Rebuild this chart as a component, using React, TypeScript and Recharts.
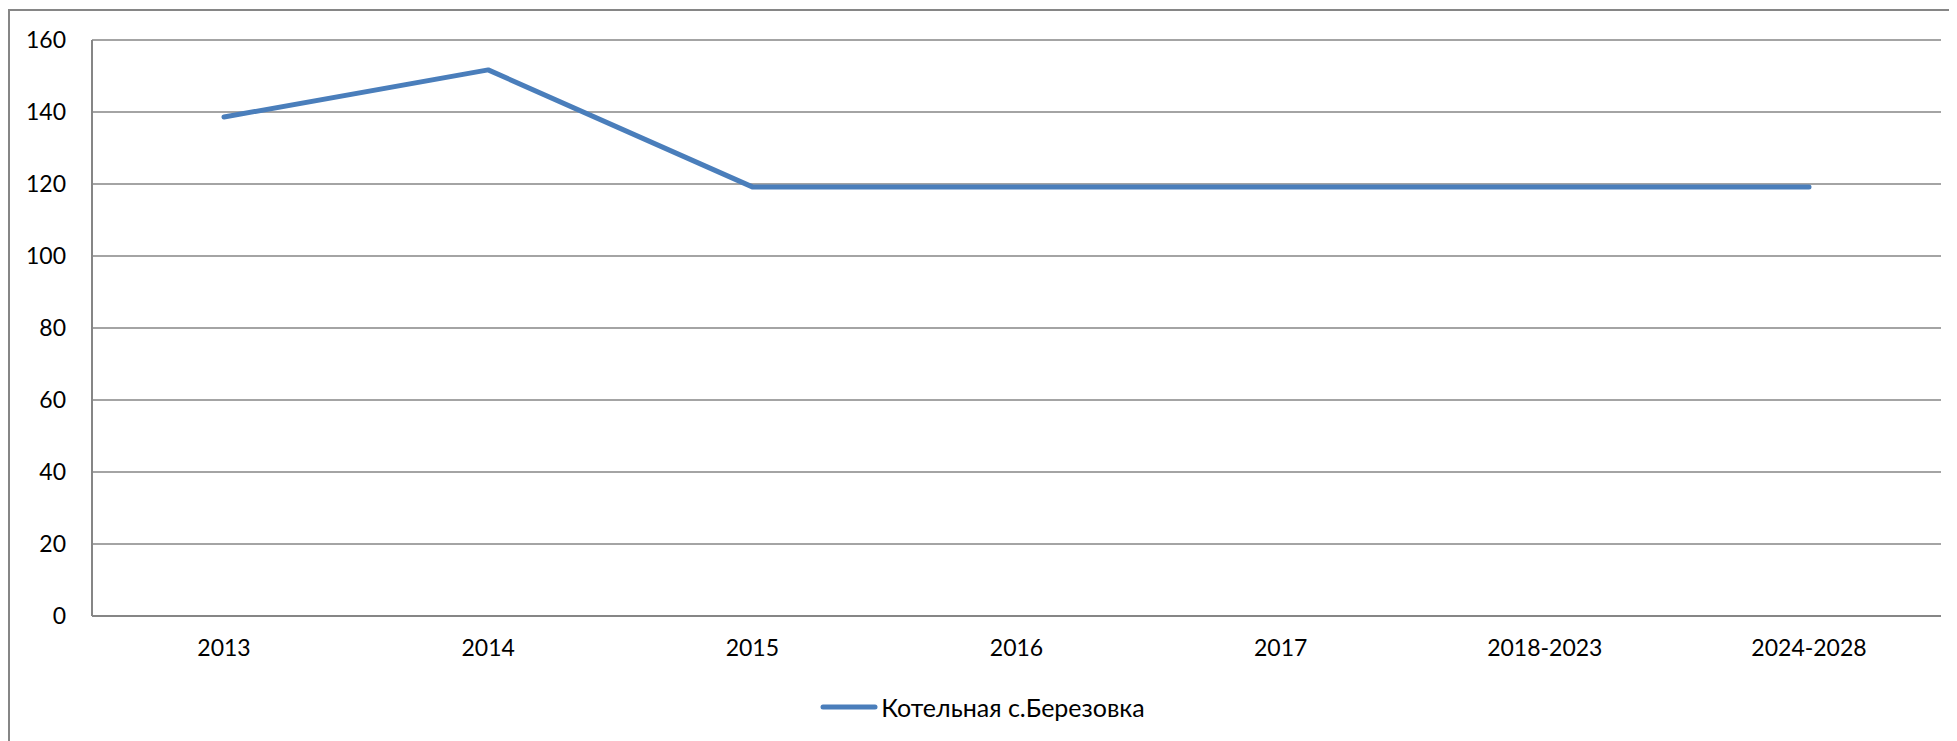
import React from "react";
import {CartesianGrid, Legend, Line, LineChart, XAxis, YAxis} from "recharts";

const years = ["2013", "2014", "2015", "2016", "2017", "2018-2023", "2024-2028"];
const boilerValues = [138.6, 151.7, 119.2, 119.2, 119.2, 119.2, 119.2];
const yTicks = [0, 20, 40, 60, 80, 100, 120, 140, 160];
const seriesName = "Котельная с.Березовка";

const data = years.map((year, i) => ({year, value: boilerValues[i]}));

const FONT = "Lato, 'Open Sans', sans-serif";

function LegendBox() {
    return (
        <div style={{display: "flex", alignItems: "center", justifyContent: "center", fontFamily: FONT, fontSize: 25, color: "#000", height: 30}}>
            <svg width={58} height={10} style={{marginRight: 3}}>
                <line x1={3} y1={5} x2={55} y2={5} stroke="#4a7ebb" strokeWidth={5} strokeLinecap="round"/>
            </svg>
            <span>{seriesName}</span>
        </div>
    );
}

export default function App() {
    return (
        <div style={{position: "relative", width: 1949, height: 733}}>
            <div style={{position: "absolute", left: 0, top: 1, width: 1949, height: 732,
                borderLeft: "2px solid #868686", borderTop: "2px solid #868686"}}/>
            <LineChart width={1949} height={733} data={data}
                       margin={{top: 32, right: 16, left: 24, bottom: 65}}>
                <CartesianGrid vertical={false} stroke="#868686" strokeWidth={1.5}/>
                <XAxis dataKey="year" padding={{left: 132, right: 132}} tickLine={false}
                       axisLine={{stroke: "#868686", strokeWidth: 2}} tickSize={0} tickMargin={24}
                       tick={{fill: "#000", fontSize: 23, fontFamily: FONT}} interval={0}/>
                <YAxis domain={[0, 160]} ticks={yTicks} width={60} tickLine={false}
                       axisLine={{stroke: "#868686", strokeWidth: 2}} tickSize={0} tickMargin={26}
                       tick={{fill: "#000", fontSize: 23, fontFamily: FONT}}/>
                <Legend content={<LegendBox/>} wrapperStyle={{top: 684, left: 0, width: 1949}}/>
                <Line type="linear" dataKey="value" name={seriesName} stroke="#4a7ebb" strokeWidth={5}
                      strokeLinecap="round" strokeLinejoin="round" dot={false} isAnimationActive={false}/>
            </LineChart>
        </div>
    );
}
